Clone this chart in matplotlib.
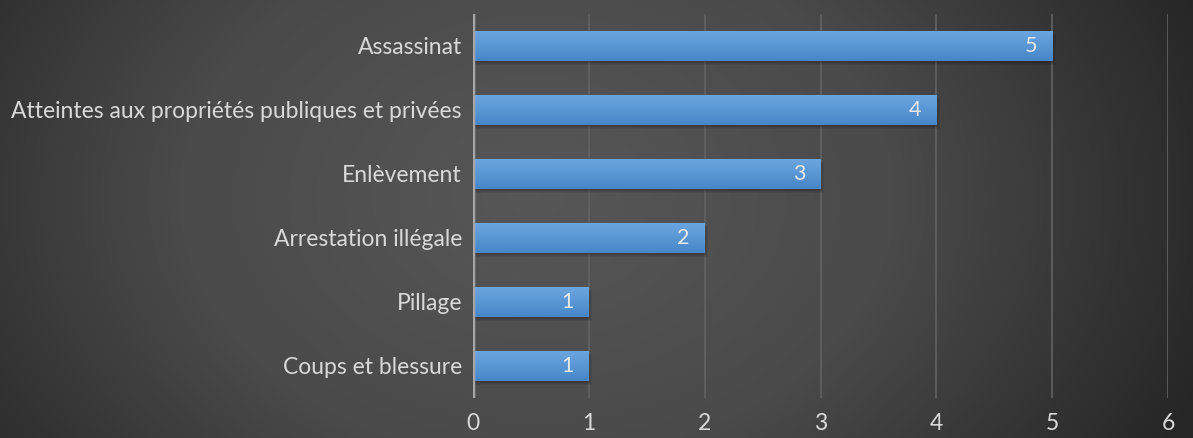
import numpy as np
import matplotlib.pyplot as plt
from matplotlib.colors import LinearSegmentedColormap

categories = ["Coups et blessure", "Pillage", "Arrestation illégale", "Enlèvement",
              "Atteintes aux propriétés publiques et privées", "Assassinat"]
values = [1, 1, 2, 3, 4, 5]
xticks = [0, 1, 2, 3, 4, 5, 6]

W, H = 1193, 438
fig = plt.figure(figsize=(W / 100, H / 100), dpi=100)

# radial dark background
bg = fig.add_axes([0, 0, 1, 1])
yy, xx = np.mgrid[0:H, 0:W]
r = np.sqrt(((xx - W * 0.45) / (W * 0.6)) ** 2 + ((yy - H * 0.45) / (H * 1.2)) ** 2)
r = np.clip(r, 0, 1)
bg_cmap = LinearSegmentedColormap.from_list("bg", ["#575757", "#4a4a4a", "#262626"])
bg.imshow(r, cmap=bg_cmap, aspect="auto", extent=[0, 1, 0, 1], vmin=0, vmax=1)
bg.axis("off")

ax = fig.add_axes([473 / W, 1 - 398 / H, (1168 - 473) / W, 384 / H])
ax.patch.set_alpha(0)
ax.set_xlim(0, 6)
ax.set_ylim(-0.5, len(categories) - 0.5)

for x in xticks[1:]:
    ax.axvline(x, color="#626262", lw=1.2, zorder=1)
ax.axvline(0, color="#a6a6a6", lw=2.5, zorder=4)

bar_h = 0.47
bar_cmap = LinearSegmentedColormap.from_list("bar", ["#4686c8", "#6da7e0"])
grad = np.linspace(0, 1, 64).reshape(-1, 1)
y_pos = np.arange(len(categories))
for y, v in zip(y_pos, values):
    # soft shadow under each bar
    for k, a in enumerate([0.10, 0.08, 0.06]):
        ax.barh(y - 0.03 - k * 0.015, v + 0.01 * (k + 1), height=bar_h, color="black",
                alpha=a, zorder=2, lw=0)
    bar = ax.barh(y, v, height=bar_h, color="#5b9bd5", zorder=3, lw=0)[0]
    im = ax.imshow(grad, cmap=bar_cmap, aspect="auto", origin="lower",
                   extent=[0, v, y - bar_h / 2, y + bar_h / 2], zorder=3)
    im.set_clip_path(bar)
    ax.text(v - 0.13, y, str(v), ha="right", va="center", color="#e8e8e8",
            fontsize=15.5, family="Lato", zorder=5)

ax.set_xlim(0, 6)
ax.set_ylim(-0.5, len(categories) - 0.5)
ax.set_yticks(y_pos)
ax.set_yticklabels(categories)
ax.set_xticks(xticks)
ax.tick_params(axis="both", length=0, colors="#d9d9d9", labelsize=16.5)
ax.tick_params(axis="y", pad=8)
ax.tick_params(axis="x", pad=11)
for lab in ax.get_yticklabels() + ax.get_xticklabels():
    lab.set_family("Lato")
for s in ax.spines.values():
    s.set_visible(False)

fig.savefig("out.png", dpi=100)
